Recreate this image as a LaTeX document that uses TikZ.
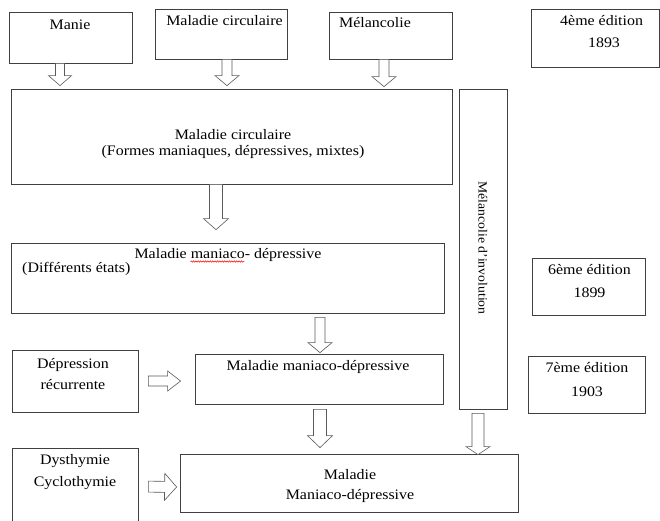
\documentclass[tikz,border=0pt]{standalone}
\usepackage{fontspec}
\setmainfont{Liberation Serif}[FakeStretch=1.1]
\usetikzlibrary{
  calc,
  decorations.pathmorphing,
}
\tikzset{
  box/.style={draw=black!75, line width=0.75pt, fill=white, inner sep=0pt},
  lbl/.style={inner sep=0pt, font=\fontsize{14.5}{17}\selectfont},
  twoline/.style={inner sep=0pt, align=center, font=\fontsize{14.5}{#1}\selectfont},
  shaftw/.store in=\shaftw,
  headw/.store in=\headw,
  headlen/.store in=\headlen,
  shaftw=5pt, headw=12pt, headlen=10pt,
  hollow/.style={
    draw=black!65, line width=0.6pt, fill=white,
    to path={let \p1=($(\tikztotarget)!\headlen!(\tikztostart)$) in
      ($(\tikztostart)!\shaftw!90:(\tikztotarget)$)
      -- ($(\p1)!\shaftw!-90:(\tikztostart)$)
      -- ($(\p1)!\headw!-90:(\tikztostart)$)
      -- (\tikztotarget)
      -- ($(\p1)!\headw!90:(\tikztostart)$)
      -- ($(\p1)!\shaftw!90:(\tikztostart)$)
      -- ($(\tikztostart)!\shaftw!-90:(\tikztotarget)$)
      -- cycle}
  },
}

\begin{document}
\begin{tikzpicture}[x=1pt, y=-1pt]

        \useasboundingbox (0,0) rectangle (660,521);
        \clip (0,0) rectangle (660,521);

        % top row
        \node [box, minimum width=123, minimum height=51] (manie) at (70.5, 37.5) {};
        \node [box, minimum width=132, minimum height=50] (circtop) at (221, 34) {};
        \node [box, minimum width=123, minimum height=47] (melan) at (390.5, 35.5) {};
        \node [box, minimum width=128, minimum height=58] (ed4) at (595, 38) {};

        % main column
        \node [box, minimum width=441, minimum height=95] (circ) at (231.5, 136.5) {};
        \node [box, minimum width=433, minimum height=70] (mmd1) at (227.5, 278) {};
        \node [box, minimum width=126, minimum height=62] (deprec) at (75, 381) {};
        \node [box, minimum width=248, minimum height=50] (mmd2) at (319, 379) {};
        \node [box, minimum width=126, minimum height=92] (dysth) at (75, 494) {};
        \node [box, minimum width=338, minimum height=58] (mmd3) at (349, 483) {};

        % right side
        \node [box, minimum width=48, minimum height=320] (invol) at (483, 249) {};
        \node [box, minimum width=113, minimum height=57] (ed6) at (588.5, 286.5) {};
        \node [box, minimum width=117, minimum height=57] (ed7) at (586.5, 384.5) {};

        % texts
        \node [lbl] (manieT) at (70, 25) {Manie};
        \node [lbl] (circtopT) at (224.5, 21) {Maladie circulaire};
        \node [lbl] (melanT) at (375, 23) {Mélancolie};
        \node [lbl, anchor=west] (ed4T) at (560, 21) {4ème édition};
        \node [lbl] (ed4Y) at (604, 43) {1893};

        \node [twoline=16] (circT) at (233, 144)
              {Maladie circulaire\\(Formes maniaques, dépressives, mixtes)};
        \node [lbl] (mmd1T) at (228, 255) {Maladie maniaco- dépressive};
        \node [lbl, anchor=west] (mmd1S) at (22, 269) {(Différents états)};
        \draw [red, line width=0.5pt, decorate,
               decoration={snake, amplitude=0.7pt, segment length=2.4pt}]
              ($(mmd1T.base west)+(56,3)$) -- ($(mmd1T.base west)+(110,3)$);

        \node [twoline=21] (deprecT) at (73, 374.5) {Dépression\\récurrente};
        \node [lbl] (mmd2T) at (318, 367) {Maladie maniaco-dépressive};
        \node [twoline=22] (dysthT) at (75, 472) {Dysthymie\\Cyclothymie};
        \node [twoline=20] (mmd3T) at (350, 486) {Maladie\\Maniaco-dépressive};

        \node [lbl, rotate=-90, font=\fontsize{12.5}{15}\selectfont] (involT) at (483, 248)
              {Mélancolie d'involution};
        \node [twoline=23] (ed6T) at (589.5, 281.5) {6ème édition\\1899};
        \node [twoline=24] (ed7T) at (587, 380) {7ème édition\\1903};

        % hollow arrows
        \draw [hollow, shaftw=4.5pt, headw=11.5pt]
              ($(manie.south)+(-10.5,0)$) to ($(manie.south |- circ.north)+(-10.5,-3)$);
        \draw [hollow]
              ($(circtop.south)+(6,0)$) to ($(circtop.south |- circ.north)+(6,-3)$);
        \draw [hollow]
              ($(melan.south)+(-6.5,0)$) to ($(melan.south |- circ.north)+(-6.5,-2)$);
        \draw [hollow, shaftw=6.5pt, headw=12.5pt, headlen=11pt]
              ($(circ.south)+(-15.5,0)$) to ($(circ.south |- mmd1.north)+(-15.5,-13)$);
        \draw [hollow]
              ($(mmd2.north |- mmd1.south)+(1,4)$) to ($(mmd2.north)+(1,-1)$);
        \draw [hollow, headw=10pt, headlen=13pt]
              ($(deprec.east)+(10,0)$) to ($(mmd2.west |- deprec.east)+(-14,0)$);
        \draw [hollow, shaftw=6.5pt, headw=12.5pt, headlen=12pt]
              ($(mmd2.south)+(1,5)$) to ($(mmd2.south |- mmd3.north)+(1,-6)$);
        \draw [hollow, shaftw=5.5pt, headw=13.5pt, headlen=12pt]
              ($(dysth.north east)+(10,39)$) to ($(mmd3.west)+(-3,4)$);
        \draw [hollow, shaftw=6pt, headlen=8pt]
              ($(invol.south)+(-5,4)$) to ($(invol.south |- mmd3.north)+(-5,1)$);

\end{tikzpicture}
\end{document}
